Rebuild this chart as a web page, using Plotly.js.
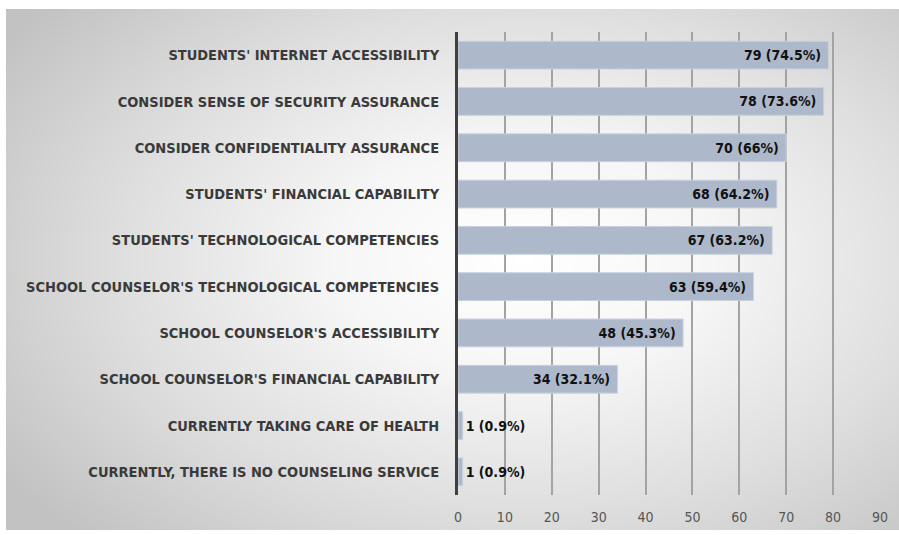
<!DOCTYPE html>
<html>
<head>
<meta charset="utf-8">
<script src="https://cdn.plot.ly/plotly-3.0.1.min.js"></script>
<style>
html,body{margin:0;padding:0;background:#fff;width:899px;height:535px;overflow:hidden;}
#bg{position:absolute;left:6px;top:9px;width:893px;height:521px;
 background:radial-gradient(ellipse 70% 75% at 58% 48%, #ffffff 0%, #f6f6f6 30%, #dedede 65%, #c2c2c2 100%);}
#chart{position:absolute;left:0;top:0;width:899px;height:535px;}
</style>
</head>
<body>
<div id="bg"></div>
<div id="chart"></div>
<script>
const categories = [
  "STUDENTS' INTERNET ACCESSIBILITY",
  "CONSIDER SENSE OF SECURITY ASSURANCE",
  "CONSIDER CONFIDENTIALITY ASSURANCE",
  "STUDENTS' FINANCIAL CAPABILITY",
  "STUDENTS' TECHNOLOGICAL COMPETENCIES",
  "SCHOOL COUNSELOR'S TECHNOLOGICAL COMPETENCIES",
  "SCHOOL COUNSELOR'S ACCESSIBILITY",
  "SCHOOL COUNSELOR'S FINANCIAL CAPABILITY",
  "CURRENTLY TAKING CARE OF HEALTH",
  "CURRENTLY, THERE IS NO COUNSELING SERVICE"
];
const counts = [79, 78, 70, 68, 67, 63, 48, 34, 1, 1];
const percents = ["74.5%", "73.6%", "66%", "64.2%", "63.2%", "59.4%", "45.3%", "32.1%", "0.9%", "0.9%"];
const tickVals = [0, 10, 20, 30, 40, 50, 60, 70, 80, 90];

const labels = counts.map((c, i) => c + " (" + percents[i] + ")" + (c < 10 ? "" : "\u00a0"));
const positions = counts.map(c => c < 10 ? "outside" : "inside");

const FONT = "'DejaVu Sans Condensed', 'DejaVu Sans', sans-serif";

const trace = {
  type: "bar",
  orientation: "h",
  y: categories,
  x: counts,
  text: labels,
  textposition: positions,
  insidetextanchor: "end",
  constraintext: "none",
  cliponaxis: false,
  textfont: {family: FONT, size: 14, color: "#111", weight: "bold"},
  marker: {color: "#adb9cb", line: {color: "#c8d1de", width: 1}},
  hoverinfo: "none"
};

const layout = {
  width: 899, height: 535,
  margin: {l: 458, r: 19, t: 32, b: 40},
  paper_bgcolor: "rgba(0,0,0,0)",
  plot_bgcolor: "rgba(0,0,0,0)",
  bargap: 0.4,
  showlegend: false,
  font: {family: FONT},
  xaxis: {
    range: [0, 90],
    tickvals: tickVals,
    ticktext: tickVals.map(String),
    showgrid: true,
    gridcolor: "#a3a3a3",
    gridwidth: 2,
    zeroline: false,
    showline: false,
    ticks: "",
    tickfont: {size: 14, color: "#555"},
    ticklabelstandoff: 12,
    fixedrange: true
  },
  yaxis: {
    autorange: "reversed",
    showgrid: false,
    zeroline: false,
    showline: true,
    linecolor: "#404040",
    linewidth: 3,
    ticks: "",
    ticklabelstandoff: 13,
    tickfont: {size: 14.5, color: "#3a3a3a", weight: "bold"},
    fixedrange: true
  }
};

Plotly.newPlot("chart", [trace], layout, {displayModeBar: false, staticPlot: true});
</script>
</body>
</html>
